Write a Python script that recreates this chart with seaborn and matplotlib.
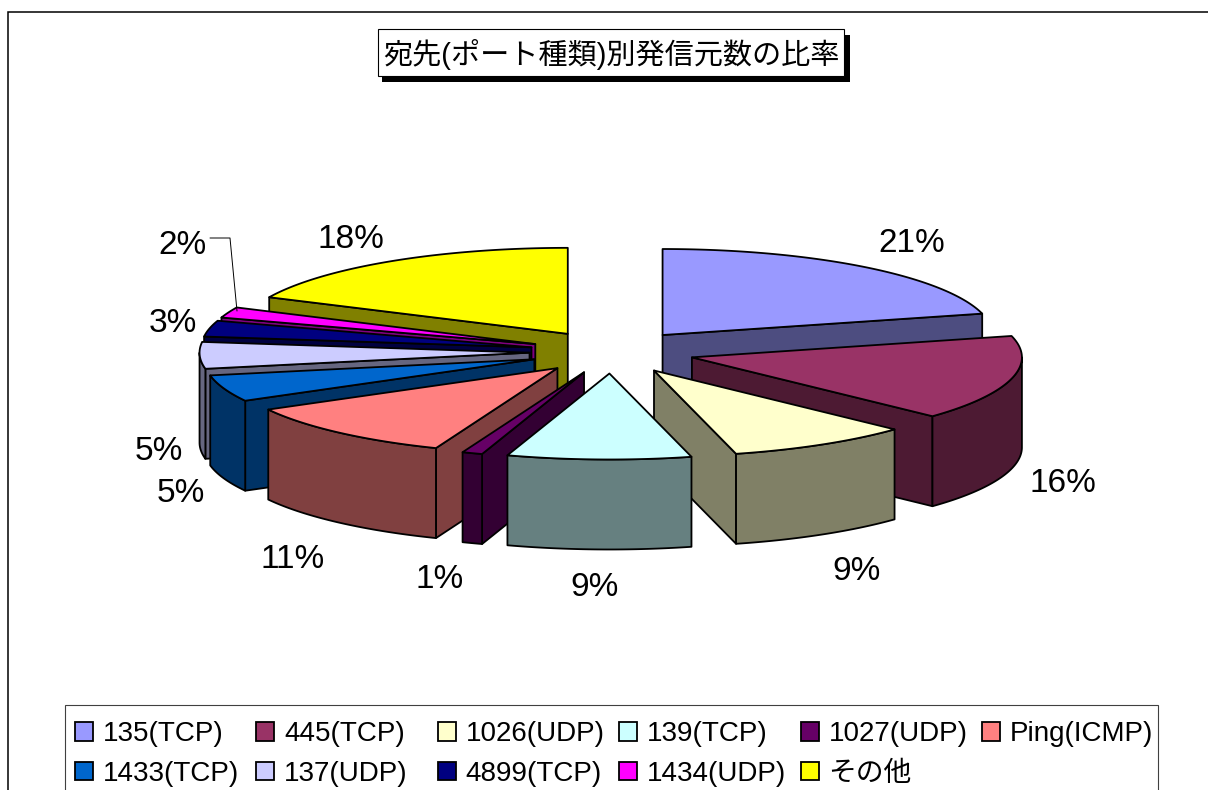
import numpy as np
import matplotlib
matplotlib.use('Agg')
import matplotlib.pyplot as plt
from matplotlib.patches import Patch, Rectangle
import seaborn as sns

# data
ports = ['135(TCP)', '445(TCP)', '1026(UDP)', '139(TCP)', '1027(UDP)', 'Ping(ICMP)',
         '1433(TCP)', '137(UDP)', '4899(TCP)', '1434(UDP)', 'その他']
shares = [21, 16, 9, 9, 1, 11, 5, 5, 3, 2, 18]
top_colors = ['#9999FF', '#993366', '#FFFFCC', '#CCFFFF', '#660066', '#FF8080',
              '#0066CC', '#CCCCFF', '#000080', '#FF00FF', '#FFFF00']
side_colors = ['#4D4D80', '#4D1A33', '#808066', '#668080', '#330033', '#804040',
               '#003366', '#666680', '#000040', '#800080', '#808000']
title_text = '宛先(ポート種類)別発信元数の比率'

# layout of the fake 3d pie, in pixels
cx, cy = 612, 352
rx, ry = 330, 86
depth = 90
explode = 0.25
draw_order = [0, 10, 9, 8, 7, 6, 5, 4, 1, 2, 3]
label_xy = [(912, 243), (1063, 483), (857, 571), (595, 587), (440, 580), (293, 559),
            (181, 494), (159, 452), (173, 323), (183, 245), (351, 239)]

sns.set_theme(style='white')
plt.rcParams['font.family'] = ['Liberation Sans', 'Noto Sans CJK JP', 'DejaVu Sans']

fig = plt.figure(figsize=(12.08, 7.9), dpi=100)
ax = fig.add_axes([0, 0, 1, 1])
ax.set_xlim(0, 1208)
ax.set_ylim(790, 0)
ax.axis('off')

ax.add_patch(Rectangle((8, 12), 1400, 1000, fc='white', ec='black', lw=1.1))


def rim(x0, y0, a0, a1):
    t = np.radians(np.linspace(a0, a1, max(int(a1 - a0) * 2, 2)))
    return x0 + rx * np.sin(t), y0 - ry * np.cos(t)


edges = np.cumsum([0] + shares) * 3.6
for i in draw_order:
    a0, a1 = edges[i], edges[i + 1]
    mid = np.radians((a0 + a1) / 2)
    x0 = cx + explode * rx * np.sin(mid)
    y0 = cy - explode * ry * np.cos(mid)
    style = dict(fc=side_colors[i], ec='black', lw=1.3, joinstyle='round')

    # cut faces that look towards the viewer
    for a, visible in ((a0, np.sin(np.radians(a0)) < -1e-6), (a1, np.sin(np.radians(a1)) > 1e-6)):
        if visible:
            ex = x0 + rx * np.sin(np.radians(a))
            ey = y0 - ry * np.cos(np.radians(a))
            ax.fill([x0, ex, ex, x0], [y0, ey, ey + depth, y0 + depth], **style)

    # outer wall, only the front half of the rim shows
    lo, hi = max(a0, 90), min(a1, 270)
    if hi > lo:
        wx, wy = rim(x0, y0, lo, hi)
        ax.fill(np.r_[wx, wx[::-1]], np.r_[wy, wy[::-1] + depth], **style)

    tx, ty = rim(x0, y0, a0, a1)
    ax.fill(np.r_[x0, tx], np.r_[y0, ty], fc=top_colors[i], ec='black', lw=1.3, joinstyle='round')

for share, (lx, ly) in zip(shares, label_xy):
    ax.text(lx, ly, f'{share}%', ha='center', va='center', fontsize=24, color='black')

# leader line of the 2% label
ax.plot([210, 230, 237], [238, 238, 311], color='black', lw=0.7)

# title box with its hard shadow
ax.add_patch(Rectangle((382, 35), 468, 47, fc='black', ec='none'))
ax.add_patch(Rectangle((378, 29), 466, 47, fc='white', ec='black', lw=0.8))
ax.text(611, 55, title_text, ha='center', va='center', fontsize=21, color='black')

# legend frame runs off the bottom of the picture, so it is a separate box
ax.add_patch(Rectangle((65, 705), 1093, 120, fc='white', ec='#404040', lw=0.8))
handles = [Patch(fc=c, ec='black', lw=1.3) for c in top_colors]
# matplotlib fills columns first, so the second row has to be woven in
order = [0, 6, 1, 7, 2, 8, 3, 9, 4, 10, 5]
leg = ax.legend([handles[i] for i in order], [ports[i] for i in order], ncol=6,
                loc='upper left', bbox_to_anchor=(65, 711), bbox_transform=ax.transData,
                fontsize=20, labelcolor='black', frameon=False,
                borderaxespad=0, borderpad=0.36, handlelength=0.65,
                handleheight=0.65, handletextpad=0.35, columnspacing=0.37, labelspacing=0.5)
# all columns the same width like in the original
leg._legend_handle_box.mode = 'equal'

fig.savefig('out.png', dpi=100)
